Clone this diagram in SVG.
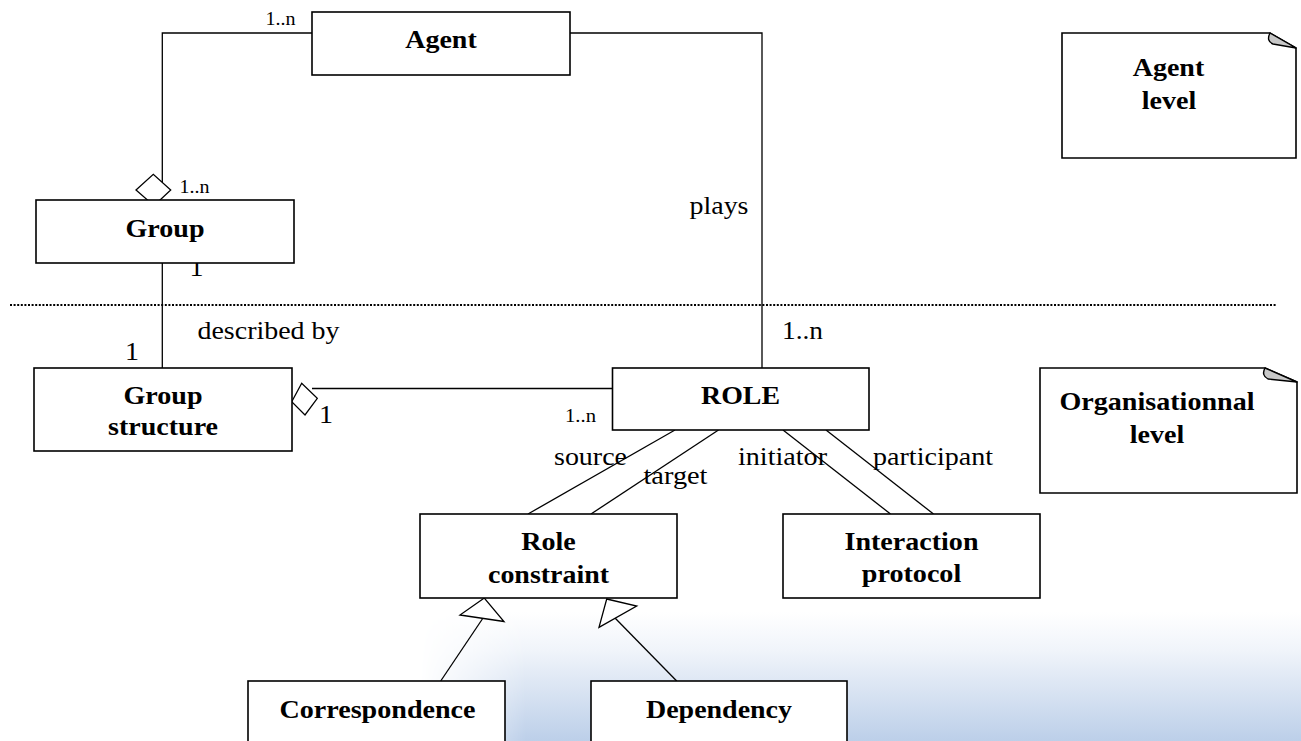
<svg xmlns="http://www.w3.org/2000/svg" width="1301" height="741" viewBox="0 0 1301 741">
  <style>
    .box { fill: #ffffff; stroke: #000000; stroke-width: 1.6; }
    .note { fill: #ffffff; stroke: #000000; stroke-width: 1.6; stroke-linejoin: miter; }
    .fold { fill: #c8c8c8; stroke: #000000; stroke-width: 1.4; stroke-linejoin: round; }
    .link { fill: none; stroke: #000000; stroke-width: 1.3; }
    .head { fill: #ffffff; stroke: #000000; stroke-width: 1.3; stroke-linejoin: miter; }
    text { lengthAdjust: spacingAndGlyphs; }
    .name { font-family: "Liberation Serif", "Times New Roman", serif; font-weight: bold; font-size: 26px; fill: #000000; text-anchor: middle; }
    .lbl { font-family: "Liberation Serif", "Times New Roman", serif; font-size: 26px; fill: #000000; }
    .small { font-family: "Liberation Serif", "Times New Roman", serif; font-size: 19px; fill: #000000; }
  </style>
  <defs>
    <linearGradient id="bgFade" x1="0" y1="0" x2="0" y2="1">
      <stop offset="0" stop-color="#ffffff"/>
      <stop offset="0.3" stop-color="#f0f4fa"/>
      <stop offset="1" stop-color="#bccfe9"/>
    </linearGradient>
    <linearGradient id="leftFade" x1="0" y1="0" x2="1" y2="0">
      <stop offset="0" stop-color="#000000"/>
      <stop offset="0.12" stop-color="#ffffff"/>
      <stop offset="1" stop-color="#ffffff"/>
    </linearGradient>
    <mask id="bgMask" maskUnits="userSpaceOnUse" x="420" y="610" width="881" height="131">
      <rect x="420" y="610" width="881" height="131" fill="url(#leftFade)"/>
    </mask>
  </defs>

  <rect width="1301" height="741" fill="#ffffff"/>
  <!-- soft blue backdrop in the lower right -->
  <rect x="420" y="612" width="881" height="129" fill="url(#bgFade)" mask="url(#bgMask)"/>

  <!-- level separator -->
  <line x1="10" y1="305" x2="1277" y2="305" stroke="#000000" stroke-width="2.2" stroke-dasharray="2 1.6"/>

  <g id="connectors">
    <polyline class="link" points="312,33 162.3,33 162.3,192"/>
    <polyline class="link" points="570,33 762,33 762,368"/>
    <line class="link" x1="162.3" y1="263" x2="162.3" y2="368"/>
    <line class="link" x1="312" y1="388.5" x2="612.5" y2="388.5"/>
    <line class="link" x1="675" y1="430" x2="528" y2="514"/>
    <line class="link" x1="718.5" y1="430" x2="591" y2="514"/>
    <line class="link" x1="783" y1="430" x2="890.5" y2="514"/>
    <line class="link" x1="826" y1="430" x2="933.5" y2="514"/>
    <line class="link" x1="482.7" y1="618.5" x2="440.7" y2="681"/>
    <line class="link" x1="615" y1="618" x2="676.7" y2="681"/>
    <!-- aggregation diamonds -->
    <polygon class="head" points="136,190 153.3,174.3 170.7,190 154,205.7"/>
    <polygon class="head" points="291.7,401.7 301.7,383.3 317.3,398.3 305,415"/>
    <!-- generalisation heads -->
    <polygon class="head" points="484.3,598 460,615 504,621.5"/>
    <polygon class="head" points="606.7,599 636.7,606 599,627.3"/>
    <!-- multiplicities and role names -->
    <text class="small" x="265.5" y="25" textLength="30" lengthAdjust="spacingAndGlyphs">1..n</text>
    <text class="small" x="179.5" y="192.5" textLength="30" lengthAdjust="spacingAndGlyphs">1..n</text>
    <text class="lbl" x="189.5" y="276" textLength="14" lengthAdjust="spacingAndGlyphs">1</text>
    <text class="lbl" x="689.5" y="213.5" textLength="59" lengthAdjust="spacingAndGlyphs">plays</text>
    <text class="lbl" x="197.5" y="338.5" textLength="142" lengthAdjust="spacingAndGlyphs">described by</text>
    <text class="lbl" x="125" y="359.5" textLength="14" lengthAdjust="spacingAndGlyphs">1</text>
    <text class="lbl" x="782" y="338.5" textLength="41" lengthAdjust="spacingAndGlyphs">1..n</text>
    <text class="lbl" x="319" y="423" textLength="14" lengthAdjust="spacingAndGlyphs">1</text>
    <text class="small" x="565" y="421.5" textLength="31" lengthAdjust="spacingAndGlyphs">1..n</text>
    <text class="lbl" x="554" y="465" textLength="73" lengthAdjust="spacingAndGlyphs">source</text>
    <text class="lbl" x="643.5" y="483.5" textLength="64" lengthAdjust="spacingAndGlyphs">target</text>
    <text class="lbl" x="738" y="465" textLength="89" lengthAdjust="spacingAndGlyphs">initiator</text>
    <text class="lbl" x="873" y="465" textLength="120" lengthAdjust="spacingAndGlyphs">participant</text>
  </g>

  <g id="agent">
    <rect class="box" x="312" y="12" width="258" height="63"/>
    <text class="name" x="441" y="48" textLength="71.5" lengthAdjust="spacingAndGlyphs">Agent</text>
  </g>

  <g id="group">
    <rect class="box" x="36" y="200" width="258" height="63"/>
    <text class="name" x="165" y="236.5" textLength="79" lengthAdjust="spacingAndGlyphs">Group</text>
  </g>

  <g id="group-structure">
    <rect class="box" x="34" y="368" width="258" height="83"/>
    <text class="name" x="163" y="403.5" textLength="79" lengthAdjust="spacingAndGlyphs">Group</text>
    <text class="name" x="163" y="435" textLength="110" lengthAdjust="spacingAndGlyphs">structure</text>
  </g>

  <g id="role">
    <rect class="box" x="612.5" y="368" width="256.5" height="62"/>
    <text class="name" x="740.5" y="403.5" textLength="79" lengthAdjust="spacingAndGlyphs">ROLE</text>
  </g>

  <g id="role-constraint">
    <rect class="box" x="420" y="514" width="257" height="84"/>
    <text class="name" x="548.5" y="549.5" textLength="54.5" lengthAdjust="spacingAndGlyphs">Role</text>
    <text class="name" x="548.5" y="582.5" textLength="121" lengthAdjust="spacingAndGlyphs">constraint</text>
  </g>

  <g id="interaction-protocol">
    <rect class="box" x="783" y="514" width="257" height="84"/>
    <text class="name" x="911.5" y="549.5" textLength="134" lengthAdjust="spacingAndGlyphs">Interaction</text>
    <text class="name" x="911.5" y="582" textLength="99.5" lengthAdjust="spacingAndGlyphs">protocol</text>
  </g>

  <g id="correspondence">
    <rect class="box" x="248" y="681" width="257" height="75"/>
    <text class="name" x="377.5" y="717.5" textLength="196" lengthAdjust="spacingAndGlyphs">Correspondence</text>
  </g>

  <g id="dependency">
    <rect class="box" x="591" y="681" width="256" height="75"/>
    <text class="name" x="719" y="717.5" textLength="146" lengthAdjust="spacingAndGlyphs">Dependency</text>
  </g>

  <g id="agent-level">
    <path class="note" d="M1062,33 H1270 L1296,48 V158 H1062 Z"/>
    <path class="fold" d="M1270,33 L1296,48 L1273,44 Q1266,41 1270,33 Z"/>
    <text class="name" x="1168.5" y="76" textLength="71.5" lengthAdjust="spacingAndGlyphs">Agent</text>
    <text class="name" x="1169" y="108.5" textLength="54.5" lengthAdjust="spacingAndGlyphs">level</text>
  </g>

  <g id="organisational-level">
    <path class="note" d="M1040,368 H1265 L1297,382 V493 H1040 Z"/>
    <path class="fold" d="M1265,368 L1297,382 L1268,379 Q1261,375 1265,368 Z"/>
    <text class="name" x="1157" y="410" textLength="195" lengthAdjust="spacingAndGlyphs">Organisationnal</text>
    <text class="name" x="1157" y="442.5" textLength="54.5" lengthAdjust="spacingAndGlyphs">level</text>
  </g>
</svg>
